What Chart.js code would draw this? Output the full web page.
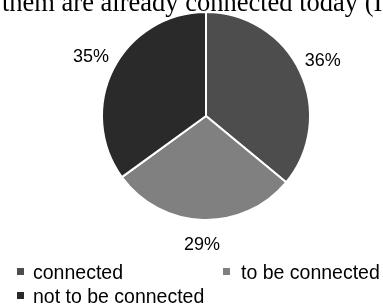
<!DOCTYPE html>
<html>
<head>
<meta charset="utf-8">
<script src="https://cdn.jsdelivr.net/npm/chart.js@4"></script>
<style>
  html, body { margin: 0; padding: 0; background: #fff; }
  #wrap { position: relative; width: 383px; height: 304px; overflow: hidden; }
  #title { position: absolute; left: 2px; top: -13px; white-space: nowrap;
           font-family: "Liberation Serif", "Times New Roman", serif; font-size: 26.5px; color: #000; }
  canvas { position: absolute; left: 0; top: 0; }
  .lg { position: absolute; font-family: "Liberation Sans", Arial, sans-serif; font-size: 19.5px; color: #000; line-height: 19px; white-space: nowrap; }
  .sw { position: absolute; width: 7px; height: 7px; }
</style>
</head>
<body>
<div id="wrap">
  <canvas id="c" width="383" height="304"></canvas>
  <div id="title">them are already connected today (I</div>
  <div id="legend"></div>
</div>
<script>
const categories = ["connected", "to be connected", "not to be connected"];
const values = [36, 29, 35];
const colors = ["#4d4d4d", "#808080", "#2a2a2a"];
const valueLabels = ["36%", "29%", "35%"];

const labelPlugin = {
  id: 'outLabels',
  afterDatasetsDraw(chart) {
    const ctx = chart.ctx;
    const meta = chart.getDatasetMeta(0);
    ctx.save();
    ctx.font = '18px "Liberation Sans", Arial, sans-serif';
    ctx.fillStyle = '#000';
    ctx.textAlign = 'center';
    ctx.textBaseline = 'middle';
    meta.data.forEach((arc, i) => {
      const p = arc.getProps(['x', 'y', 'startAngle', 'endAngle', 'outerRadius'], true);
      const mid = (p.startAngle + p.endAngle) / 2;
      const r = p.outerRadius + 25;
      ctx.fillText(valueLabels[i], p.x + Math.cos(mid) * r, p.y + Math.sin(mid) * r);
    });
    ctx.restore();
  }
};

new Chart(document.getElementById('c'), {
  type: 'pie',
  data: {
    labels: categories,
    datasets: [{
      data: values,
      backgroundColor: colors,
      borderColor: '#ffffff',
      borderWidth: 2
    }]
  },
  options: {
    responsive: false,
    animation: false,
    layout: { padding: { left: 101, right: 72, top: 11, bottom: 83 } },
    plugins: { legend: { display: false }, tooltip: { enabled: false } }
  },
  plugins: [labelPlugin]
});

// legend (HTML, built from the arrays): [swatch x, text x, y]
const legendPos = [[17, 33, 263], [223, 241, 263], [17, 33, 287]];
const lg = document.getElementById('legend');
categories.forEach((name, i) => {
  const [sx, tx, y] = legendPos[i];
  const sw = document.createElement('div');
  sw.className = 'sw';
  sw.style.left = sx + 'px';
  sw.style.top = (y + 5) + 'px';
  sw.style.background = colors[i];
  lg.appendChild(sw);
  const t = document.createElement('div');
  t.className = 'lg';
  t.style.left = tx + 'px';
  t.style.top = y + 'px';
  t.textContent = name;
  lg.appendChild(t);
});
</script>
</body>
</html>
